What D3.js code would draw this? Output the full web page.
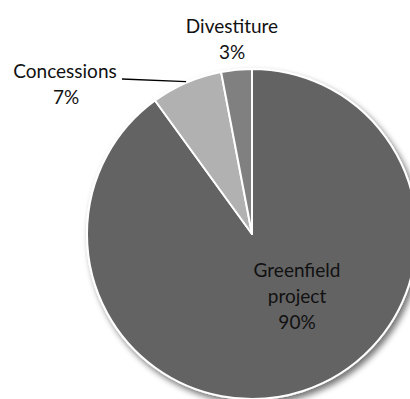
<!DOCTYPE html>
<html>
<head>
<meta charset="utf-8">
<script src="https://cdn.jsdelivr.net/npm/d3@7"></script>
<style>
  html, body { margin: 0; padding: 0; background: #fff; }
  svg { display: block; }
  text { font-family: Lato, "Open Sans", sans-serif; fill: #111; }
</style>
</head>
<body>
<svg id="chart" width="410" height="399"></svg>
<script>
// Deal types and their shares (%)
const categories = ["Greenfield project", "Concessions", "Divestiture"];
const shares = [90, 7, 3];
const fills = ["#636363", "#b1b1b1", "#808080"];

const svg = d3.select("#chart");
const cx = 252, cy = 234, radius = 165;

const defs = svg.append("defs");
const shadow = defs.append("filter").attr("id", "shadow")
  .attr("x", "-10%").attr("y", "-10%").attr("width", "130%").attr("height", "130%");
shadow.append("feGaussianBlur").attr("in", "SourceAlpha").attr("stdDeviation", 3).attr("result", "blur");
shadow.append("feOffset").attr("in", "blur").attr("dx", 3).attr("dy", 4).attr("result", "off");
shadow.append("feComponentTransfer").attr("in", "off").attr("result", "soft")
  .append("feFuncA").attr("type", "linear").attr("slope", 0.55);
const merge = shadow.append("feMerge");
merge.append("feMergeNode").attr("in", "soft");
merge.append("feMergeNode").attr("in", "SourceGraphic");

const pie = d3.pie().sort(null).value(d => d)(shares);
const arc = d3.arc().innerRadius(0).outerRadius(radius);

const g = svg.append("g").attr("transform", `translate(${cx},${cy})`).attr("filter", "url(#shadow)");
g.selectAll("path").data(pie).join("path")
  .attr("d", arc)
  .attr("fill", (d, i) => fills[i])
  .attr("stroke", "#fff")
  .attr("stroke-width", 2)
  .attr("stroke-linejoin", "round");

const fontSize = "19px";

// Label inside the large slice
const big = svg.append("text").attr("text-anchor", "middle").style("font-size", fontSize);
[["Greenfield", 277], ["project", 303], [shares[0] + "%", 329]].forEach(([t, y]) => {
  big.append("tspan").attr("x", 297).attr("y", y).text(t);
});

// Concessions label with leader line
const conc = svg.append("text").attr("text-anchor", "middle").style("font-size", fontSize);
conc.append("tspan").attr("x", 65).attr("y", 78).text(categories[1]);
conc.append("tspan").attr("x", 66).attr("y", 104).text(shares[1] + "%");
const concMid = (pie[1].startAngle + pie[1].endAngle) / 2;
const edge = [cx + Math.sin(concMid) * (radius + 1), cy - Math.cos(concMid) * (radius + 1)];
svg.append("path")
  .attr("d", `M122,79 L${edge[0]},${edge[1]}`)
  .attr("fill", "none").attr("stroke", "#000").attr("stroke-width", 1.3);

// Divestiture label above the slice
const div = svg.append("text").attr("text-anchor", "middle").style("font-size", fontSize);
div.append("tspan").attr("x", 232).attr("y", 33).text(categories[2]);
div.append("tspan").attr("x", 232).attr("y", 59).text(shares[2] + "%");
</script>
</body>
</html>
